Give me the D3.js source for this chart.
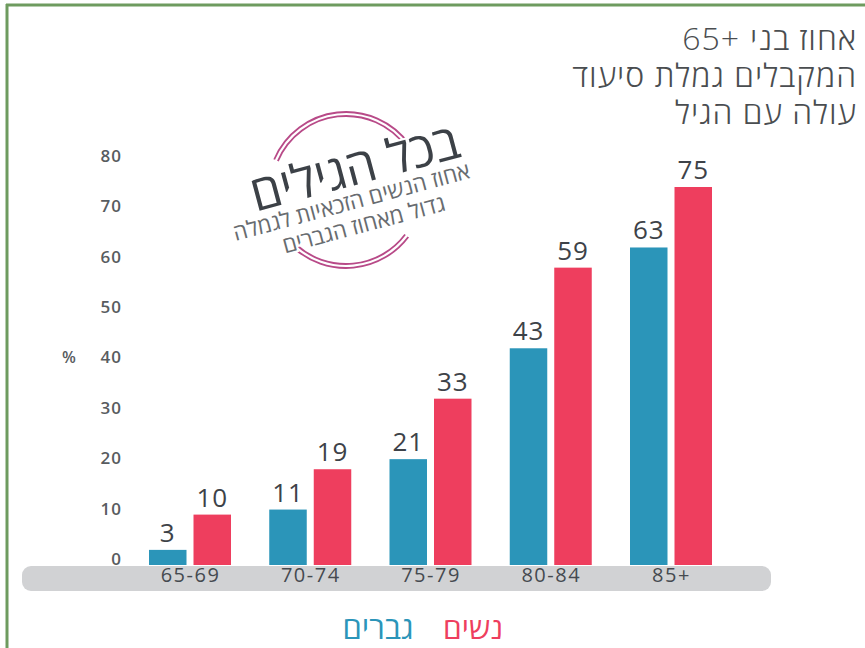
<!DOCTYPE html>
<html>
<head>
<meta charset="utf-8">
<script src="https://cdn.jsdelivr.net/npm/d3@7"></script>
<style>
  html, body { margin: 0; padding: 0; background: #fff; }
  svg { display: block; }
  text { font-family: "Open Sans", "DejaVu Sans", sans-serif; }
</style>
</head>
<body>
<svg id="chart" width="865" height="648"></svg>
<script>
// ---- data ----
const categories = ["65-69", "70-74", "75-79", "80-84", "85+"];
const men   = [3, 11, 21, 43, 63];
const women = [10, 19, 33, 59, 75];
const seriesNames = ["גברים", "נשים"];
const yTicks = [0, 10, 20, 30, 40, 50, 60, 70, 80];
const titleLine1 = ["אחוז בני", "65+"];
const titleLines = ["המקבלים גמלת סיעוד", "עולה עם הגיל"];
const stampLines = ["בכל הגילים", "אחוז הנשים הזכאיות לגמלה", "גדול מאחוז הגברים"];
const yUnit = "%";

const colors = { men: "#2b95b9", women: "#ee3e5e" };
const ltr = s => "\u202D" + s + "\u202C";

const svg = d3.select("#chart");

// green frame (top & left)
svg.append("line").attr("x1", 6).attr("x2", 865).attr("y1", 5).attr("y2", 5)
  .attr("stroke", "#6e9b5f").attr("stroke-width", 3);
svg.append("line").attr("x1", 7).attr("x2", 7).attr("y1", 4).attr("y2", 648)
  .attr("stroke", "#6e9b5f").attr("stroke-width", 3);

// scales
const y = d3.scaleLinear().domain([0, 80]).range([565, 161.8]);
const x0 = d3.scalePoint().domain(categories).range([190, 671]);
const x1 = d3.scaleBand().domain(["men", "women"]).range([-41, 41]).paddingInner(7 / 44.5);

// axis band
svg.append("rect").attr("x", 22).attr("y", 566).attr("width", 749).attr("height", 25)
  .attr("rx", 9).attr("fill", "#d1d2d4");

// y tick labels
const yAxis = d3.axisLeft(y).tickValues(yTicks).tickSize(0).tickPadding(0);
const gy = svg.append("g").attr("transform", "translate(122,-6)").call(yAxis);
gy.select(".domain").remove();
gy.selectAll("text").attr("font-size", 17).attr("font-weight", 600)
  .attr("fill", "#585c60").attr("letter-spacing", 1)
  .attr("font-family", "\"Open Sans\", \"DejaVu Sans\", sans-serif");

svg.append("text").attr("x", 69).attr("y", y(40) - 6).attr("dy", "0.35em")
  .attr("text-anchor", "middle").attr("font-size", 16).attr("font-weight", 600)
  .attr("fill", "#585c60").text(yUnit);

// x category labels
const xAxis = d3.axisBottom(x0).tickSize(0).tickPadding(0).tickFormat(ltr);
const gx = svg.append("g").attr("transform", "translate(0,568)").call(xAxis);
gx.select(".domain").remove();
gx.selectAll("text").attr("font-size", 20).attr("fill", "#454a50").attr("letter-spacing", 1.5)
  .attr("font-family", "\"Open Sans\", \"DejaVu Sans\", sans-serif");

// bars
const rows = categories.map((c, i) => ({ cat: c, values: [
  { key: "men", v: men[i] }, { key: "women", v: women[i] } ] }));

const groups = svg.append("g").selectAll("g").data(rows).join("g")
  .attr("transform", d => `translate(${x0(d.cat)},0)`);

groups.selectAll("rect").data(d => d.values).join("rect")
  .attr("x", d => x1(d.key)).attr("width", x1.bandwidth())
  .attr("y", d => y(d.v)).attr("height", d => y(0) - y(d.v))
  .attr("fill", d => colors[d.key]);

groups.selectAll("text.val").data(d => d.values).join("text")
  .attr("class", "val")
  .attr("x", d => x1(d.key) + x1.bandwidth() / 2)
  .attr("y", d => y(d.v) - 8)
  .attr("text-anchor", "middle").attr("font-size", 26).attr("letter-spacing", 1)
  .attr("fill", "#3d4248")
  .text(d => d.v);

// title
const titleStyle = sel => sel.attr("text-anchor", "end").attr("font-size", 32)
  .attr("font-weight", 300).attr("letter-spacing", 1).attr("fill", "#4a4d50");
const t1 = svg.append("text").attr("x", 857).attr("y", 50).call(titleStyle).text(titleLine1[0]);
const w1 = t1.node().getComputedTextLength();
svg.append("text").attr("x", 857 - w1 - 10).attr("y", 50).call(titleStyle)
  .text(ltr(titleLine1[1]));
svg.append("g").selectAll("text").data(titleLines).join("text")
  .attr("x", 857).attr("y", (d, i) => 87 + i * 37).call(titleStyle).text(d => d);

// stamp
const cx = 346, cy = 190;
const arcPath = (r, a0, a1) => {
  const p = d3.path();
  p.arc(cx, cy, r, a0 * Math.PI / 180, a1 * Math.PI / 180);
  return p.toString();
};
const arcs = [[-157, -36], [37, 132]];
[78, 74].forEach(r => arcs.forEach(a => {
  svg.append("path").attr("d", arcPath(r, a[0], a[1])).attr("fill", "none")
    .attr("stroke", "#b84a88").attr("stroke-width", 1.8);
}));
const stamp = svg.append("g").attr("transform", `translate(${cx + 6},${cy - 2}) rotate(-15)`);
stamp.append("text").attr("x", 8).attr("y", -2).attr("text-anchor", "middle")
  .attr("font-size", 49).attr("fill", "#3c4147")
  .attr("stroke", "#fff").attr("stroke-width", 4).attr("paint-order", "stroke")
  .text(stampLines[0]);
stamp.selectAll("text.sub").data(stampLines.slice(1)).join("text").attr("class", "sub")
  .attr("x", (d, i) => i === 0 ? -4 : 2).attr("y", (d, i) => 21 + i * 25)
  .attr("text-anchor", "middle").attr("font-size", 22.5).attr("fill", "#686c70")
  .attr("stroke", "#fff").attr("stroke-width", 4).attr("paint-order", "stroke")
  .text(d => d);

// legend
svg.append("text").attr("x", 473).attr("y", 639).attr("text-anchor", "middle")
  .attr("font-size", 30).attr("fill", colors.women).text(seriesNames[1]);
svg.append("text").attr("x", 378).attr("y", 639).attr("text-anchor", "middle")
  .attr("font-size", 31).attr("fill", colors.men).text(seriesNames[0]);
</script>
</body>
</html>
